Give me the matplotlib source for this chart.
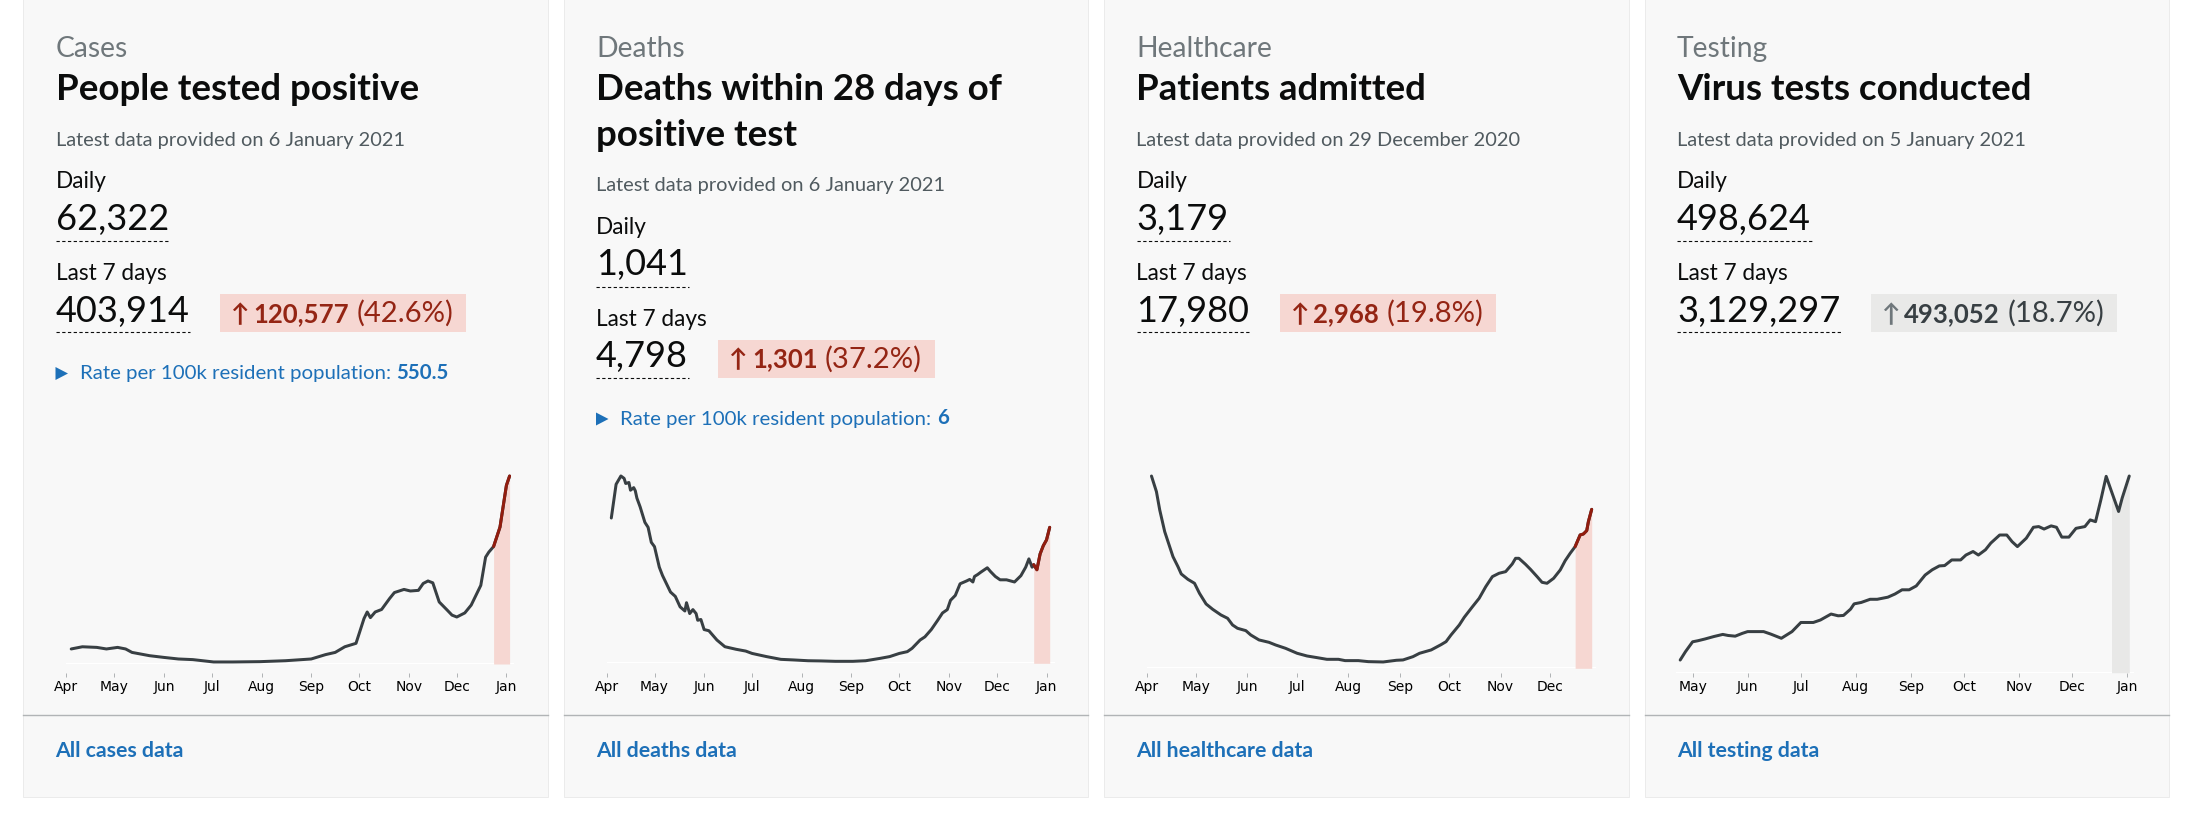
import matplotlib
matplotlib.use('Agg')
import matplotlib.pyplot as plt
import matplotlib.dates as mdates
from matplotlib.patches import Rectangle, Polygon
import numpy as np
import pandas as pd

# ---------------- card texts ----------------
categories = ['Cases', 'Deaths', 'Healthcare', 'Testing']
headings = ['People tested positive', 'Deaths within 28 days of\npositive test',
            'Patients admitted', 'Virus tests conducted']
updated = ['6 January 2021', '6 January 2021', '29 December 2020', '5 January 2021']
daily = ['62,322', '1,041', '3,179', '498,624']
last7 = ['403,914', '4,798', '17,980', '3,129,297']
change = ['120,577', '1,301', '2,968', '493,052']
change_pct = ['(42.6%)', '(37.2%)', '(19.8%)', '(18.7%)']
rate = ['550.5', '6', None, None]
links = ['All cases data', 'All deaths data', 'All healthcare data', 'All testing data']

# ---------------- chart series ----------------
cases_dates = ['2020-04-04', '2020-04-11', '2020-04-20', '2020-04-26', '2020-05-03', '2020-05-08',
               '2020-05-12', '2020-05-23', '2020-06-01', '2020-06-10', '2020-06-19', '2020-07-02',
               '2020-07-14', '2020-07-31', '2020-08-16', '2020-09-01', '2020-09-10', '2020-09-16',
               '2020-09-22', '2020-09-29', '2020-10-01', '2020-10-04', '2020-10-06', '2020-10-08',
               '2020-10-11', '2020-10-15', '2020-10-20', '2020-10-23', '2020-10-29', '2020-11-02',
               '2020-11-07', '2020-11-10', '2020-11-13', '2020-11-16', '2020-11-20', '2020-11-25',
               '2020-11-28', '2020-12-01', '2020-12-06', '2020-12-10', '2020-12-16', '2020-12-19',
               '2020-12-21', '2020-12-24', '2020-12-28', '2021-01-01', '2021-01-03']
cases_values = [4.8, 5.5, 5.3, 4.8, 5.3, 4.8,
                3.7, 2.65, 2.1, 1.6, 1.4, 0.65,
                0.65, 0.75, 1.05, 1.6, 3.0, 3.7,
                5.5, 6.6, 9.75, 14.5, 16.6, 14.8,
                16.6, 17.4, 20.9, 22.8, 23.8, 23.3,
                23.5, 25.7, 26.5, 25.9, 19.8, 17.2,
                15.6, 15.0, 16.3, 18.8, 25.1, 34.1,
                35.7, 37.5, 43.7, 57.0, 60.0]

deaths_dates = ['2020-04-04', '2020-04-07', '2020-04-10', '2020-04-12', '2020-04-13', '2020-04-15',
                '2020-04-16', '2020-04-18', '2020-04-19', '2020-04-20', '2020-04-22', '2020-04-25',
                '2020-04-27', '2020-04-29', '2020-05-01', '2020-05-04', '2020-05-06', '2020-05-11',
                '2020-05-14', '2020-05-17', '2020-05-20', '2020-05-21', '2020-05-23', '2020-05-25',
                '2020-05-27', '2020-05-28', '2020-05-30', '2020-06-01', '2020-06-04', '2020-06-09',
                '2020-06-14', '2020-06-21', '2020-06-27', '2020-07-01', '2020-07-10', '2020-07-19',
                '2020-07-27', '2020-08-05', '2020-08-13', '2020-08-22', '2020-09-02', '2020-09-10',
                '2020-09-19', '2020-09-25', '2020-10-01', '2020-10-06', '2020-10-09', '2020-10-14',
                '2020-10-17', '2020-10-21', '2020-10-25', '2020-10-28', '2020-10-31', '2020-11-02',
                '2020-11-05', '2020-11-08', '2020-11-12', '2020-11-14', '2020-11-16', '2020-11-17',
                '2020-11-19', '2020-11-21', '2020-11-25', '2020-11-27', '2020-11-30', '2020-12-03',
                '2020-12-07', '2020-12-12', '2020-12-16', '2020-12-19', '2020-12-21', '2020-12-23',
                '2020-12-24', '2020-12-26', '2020-12-28', '2020-12-30', '2021-01-01', '2021-01-03']
deaths_values = [736, 907, 949, 937, 911, 916,
                 877, 890, 874, 837, 793, 714,
                 689, 613, 591, 487, 445, 361,
                 339, 286, 265, 307, 252, 272,
                 252, 218, 222, 171, 165, 118,
                 84, 71, 62, 50, 34, 20,
                 17, 13, 12, 10, 10, 13,
                 25, 34, 50, 59, 76, 118,
                 134, 171, 218, 255, 272, 319,
                 344, 403, 417, 425, 412, 440,
                 450, 462, 484, 465, 440, 423,
                 423, 412, 444, 487, 529, 487,
                 500, 474, 554, 596, 625, 689]

admissions_dates = ['2020-04-04', '2020-04-07', '2020-04-09', '2020-04-12', '2020-04-15', '2020-04-17',
                    '2020-04-20', '2020-04-22', '2020-04-26', '2020-04-30', '2020-05-03', '2020-05-07',
                    '2020-05-11', '2020-05-16', '2020-05-20', '2020-05-23', '2020-05-26', '2020-05-31',
                    '2020-06-03', '2020-06-08', '2020-06-14', '2020-06-18', '2020-06-24', '2020-07-01',
                    '2020-07-07', '2020-07-13', '2020-07-19', '2020-07-26', '2020-07-30', '2020-08-07',
                    '2020-08-13', '2020-08-22', '2020-08-30', '2020-09-03', '2020-09-09', '2020-09-13',
                    '2020-09-20', '2020-09-26', '2020-09-29', '2020-10-02', '2020-10-07', '2020-10-10',
                    '2020-10-15', '2020-10-19', '2020-10-23', '2020-10-27', '2020-10-31', '2020-11-04',
                    '2020-11-08', '2020-11-10', '2020-11-12', '2020-11-16', '2020-11-19', '2020-11-23',
                    '2020-11-26', '2020-11-29', '2020-12-03', '2020-12-07', '2020-12-10', '2020-12-13',
                    '2020-12-16', '2020-12-19', '2020-12-21', '2020-12-23', '2020-12-24', '2020-12-26']
admissions_values = [3404, 3127, 2802, 2419, 2153, 1976,
                     1800, 1670, 1575, 1505, 1328, 1139,
                     1044, 944, 885, 767, 708, 667,
                     590, 502, 460, 413, 354, 266,
                     218, 189, 159, 159, 136, 136,
                     118, 112, 142, 148, 206, 266,
                     325, 419, 472, 590, 767, 903,
                     1092, 1239, 1446, 1623, 1682, 1711,
                     1847, 1947, 1947, 1841, 1752, 1623,
                     1522, 1505, 1593, 1741, 1906, 2036,
                     2154, 2360, 2378, 2437, 2596, 2814]

tests_dates = ['2020-04-24', '2020-04-27', '2020-05-01', '2020-05-04', '2020-05-08', '2020-05-13',
               '2020-05-18', '2020-05-21', '2020-05-25', '2020-05-29', '2020-06-01', '2020-06-10',
               '2020-06-14', '2020-06-20', '2020-06-26', '2020-07-01', '2020-07-08', '2020-07-12',
               '2020-07-18', '2020-07-22', '2020-07-25', '2020-07-29', '2020-07-31', '2020-08-04',
               '2020-08-09', '2020-08-13', '2020-08-19', '2020-08-23', '2020-08-27', '2020-08-31',
               '2020-09-04', '2020-09-09', '2020-09-13', '2020-09-17', '2020-09-20', '2020-09-24',
               '2020-09-29', '2020-10-02', '2020-10-06', '2020-10-09', '2020-10-13', '2020-10-16',
               '2020-10-21', '2020-10-25', '2020-10-28', '2020-10-31', '2020-11-05', '2020-11-09',
               '2020-11-12', '2020-11-15', '2020-11-19', '2020-11-22', '2020-11-25', '2020-11-29',
               '2020-12-03', '2020-12-08', '2020-12-11', '2020-12-14', '2020-12-17', '2020-12-20',
               '2020-12-23', '2020-12-27', '2020-12-29', '2021-01-02']
tests_values = [36, 60, 88, 91, 96, 103,
                109, 106, 104, 112, 117, 117,
                110, 98, 117, 143, 143, 150,
                167, 162, 163, 181, 196, 200,
                209, 209, 215, 224, 236, 236,
                247, 278, 293, 304, 305, 321,
                321, 335, 345, 335, 350, 369,
                392, 392, 373, 359, 383, 414,
                416, 409, 418, 414, 386, 386,
                411, 416, 435, 430, 492, 559,
                516, 459, 497, 560]

series_dates = [cases_dates, deaths_dates, admissions_dates, tests_dates]
series_values = [cases_values, deaths_values, admissions_values, tests_values]
last7_start = ['2020-12-24', '2020-12-24', '2020-12-16', '2020-12-23']
month_ticks = [('2020-04-01', '2021-01-01'), ('2020-04-01', '2021-01-01'),
               ('2020-04-01', '2020-12-01'), ('2020-05-01', '2021-01-01')]

# ---------------- style / layout ----------------
W, H, DPI = 2197, 819, 100
PT = 72.0 / DPI
FONT = ['Lato', 'DejaVu Sans']
BLACK = '#0b0c0c'
GREY = '#6f777b'
DGREY = '#505a5f'
BLUE = '#1d70b8'
LINE = '#383f43'
RED = '#942514'
PINK = '#f6d7d2'
SHADE = '#e8e8e7'

CARD_X = [23, 563.5, 1104, 1644.5]
CARD_W = 524.5
TEXT_DX = 32.5
CHART_TOP = 476
TICK_TOP = 673
chart_geo = [
    dict(x0=66.0, x1=514.0, ref='2020-04-01', ref_px=66.4, ppd=1.600, base=664.0),
    dict(x0=606.5, x1=1054.8, ref='2020-04-01', ref_px=606.5, ppd=1.600, base=663.3),
    dict(x0=1146.5, x1=1595.9, ref='2020-04-01', ref_px=1146.5, ppd=1.655, base=668.3),
    dict(x0=1675.5, x1=2133.8, ref='2020-05-01', ref_px=1692.6, ppd=1.775, base=672.7),
]

fig = plt.figure(figsize=(W / DPI, H / DPI), dpi=DPI)
fig.patch.set_facecolor('white')
bg = fig.add_axes([0, 0, 1, 1])
bg.set_xlim(0, W)
bg.set_ylim(H, 0)
bg.axis('off')
rend = fig.canvas.get_renderer()


def put(x, y, s, px, color, bold=False, family=FONT):
    return bg.text(x, y, s, fontsize=px * PT, color=color, family=family, zorder=3,
                   fontweight='bold' if bold else 'normal', ha='left', va='baseline')


def width(t):
    return t.get_window_extent(renderer=rend).width


def fit(s, bold, target, px=24):
    # font size (px) giving the width that the first card shows for this text
    t = put(0, 0, s, px, BLACK, bold)
    w = width(t)
    t.remove()
    return px * target / w


CAT = fit('Cases', False, 72.5)
TITLE = fit('People tested positive', True, 362.5)
LATEST = fit('Latest data provided on 6 January 2021', False, 351)
LABEL = fit('Last 7 days', False, 111)
NUM = fit('403,914', False, 134)
ARROW = fit('↑', True, 18.5)
BNUM = fit('120,577', True, 96)
BPCT = fit('(42.6%)', False, 97)
RATE = fit('Rate per 100k resident population:', False, 311)
LINK = fit('All cases data', True, 128.6)


def underline(x, y, w):
    bg.plot([x, x + w + 1], [y, y], color=BLACK, lw=1.1 * PT, dashes=(3, 2.2),
            solid_capstyle='butt', dash_capstyle='butt', zorder=3)


for i in range(4):
    cx = CARD_X[i]
    tx = cx + TEXT_DX
    bg.add_patch(Rectangle((cx, -5), CARD_W, 802, fc='#f8f8f8', ec='#ebebeb', lw=1 * PT, zorder=1))

    put(tx, 57, categories[i], CAT, GREY)
    lines = headings[i].split('\n')
    for k, ln in enumerate(lines):
        put(tx, 100 + 46 * k, ln, TITLE, BLACK, bold=True)
    s = 45.5 * (len(lines) - 1)

    put(tx, 146 + s, 'Latest data provided on ' + updated[i], LATEST, DGREY)
    put(tx, 188 + s, 'Daily', LABEL, BLACK)
    t = put(tx, 230 + s, daily[i], NUM, BLACK)
    underline(tx, 241 + s, width(t))
    put(tx, 280 + s, 'Last 7 days', LABEL, BLACK)
    t = put(tx, 322 + s, last7[i], NUM, BLACK)
    underline(tx, 332 + s, width(t))

    # change badge
    grey_badge = i == 3
    bcol = '#e9e9e8' if grey_badge else PINK
    tcol = '#383f43' if grey_badge else RED
    acol = GREY if grey_badge else RED
    bx = tx + width(t) + 30.5
    a = put(bx + 11, 322 + s, '↑', ARROW, acol, bold=True)
    nx = bx + 11 + width(a) + 4
    n = put(nx, 322 + s, change[i], BNUM, tcol, bold=True)
    px_ = nx + width(n) + 7.5
    p = put(px_, 322 + s, change_pct[i], BPCT, tcol)
    bw = px_ + width(p) + 12.5 - bx
    bg.add_patch(Rectangle((bx, 294 + s), bw, 38, fc=bcol, ec='none', zorder=2))

    if rate[i] is not None:
        yc = 373.5 + s
        bg.add_patch(Polygon([[tx, yc - 6.5], [tx, yc + 6.5], [tx + 12.5, yc]],
                             closed=True, fc=BLUE, ec='none', zorder=3))
        r = put(tx + 24.5, 379 + s, 'Rate per 100k resident population: ', RATE, BLUE)
        put(tx + 24.5 + width(r), 379 + s, rate[i], RATE, BLUE, bold=True)

    bg.plot([cx, cx + CARD_W], [714.5, 714.5], color='#b1b4b6', lw=1.4 * PT, zorder=2)
    put(tx, 757, links[i], LINK, BLUE, bold=True)

    # ---- sparkline ----
    g = chart_geo[i]
    ax = fig.add_axes([g['x0'] / W, (H - g['base']) / H,
                       (g['x1'] - g['x0']) / W, (g['base'] - CHART_TOP) / H])
    ax.patch.set_alpha(0)
    x = mdates.date2num(pd.to_datetime(series_dates[i]).to_numpy())
    v = np.array(series_values[i], dtype=float)
    ref = mdates.date2num(pd.Timestamp(g['ref']).to_datetime64())
    ax.set_xlim(ref + (g['x0'] - g['ref_px']) / g['ppd'],
                ref + (g['x1'] - g['ref_px']) / g['ppd'])
    ax.set_ylim(0, v.max())

    ax.axhline(0, color='white', lw=2 * PT, zorder=1)
    hi = mdates.date2num(pd.Timestamp(last7_start[i]).to_datetime64())
    m = x >= hi
    ax.fill_between(x[m], v[m], 0, color=SHADE if grey_badge else PINK, lw=0, zorder=2)
    ax.plot(x, v, color=LINE, lw=3 * PT, zorder=3, clip_on=False,
            solid_joinstyle='round', solid_capstyle='round')
    if not grey_badge:
        ax.plot(x[m], v[m], color='#921c0e', lw=3 * PT, zorder=4, clip_on=False,
                solid_joinstyle='round', solid_capstyle='round')

    months = pd.date_range(month_ticks[i][0], month_ticks[i][1], freq='MS')
    ax.set_xticks(mdates.date2num(months.to_numpy()),
                  labels=[d.strftime('%b') for d in months],
                  fontfamily='Liberation Sans', fontsize=14.5 * PT, color='#6f6f6f')
    ax.set_yticks([])
    for sp in ax.spines.values():
        sp.set_visible(False)
    ax.spines['bottom'].set_position(('outward', (TICK_TOP - g['base']) * PT))
    ax.tick_params(axis='x', length=4 * PT, width=1 * PT, color='#b1b4b6', pad=3 * PT)

fig.savefig('out.png', dpi=DPI, facecolor='white')
